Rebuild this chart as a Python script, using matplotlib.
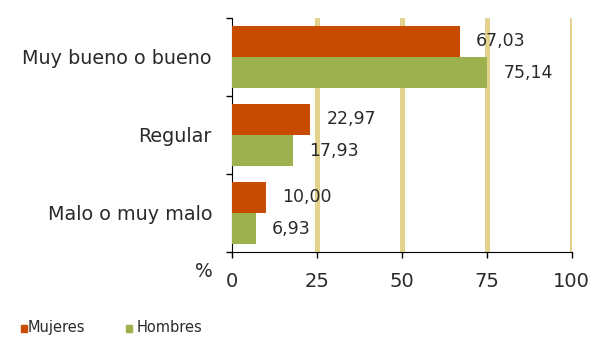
import matplotlib
matplotlib.use("Agg")
import matplotlib.pyplot as plt
import numpy as np
from matplotlib.patches import Rectangle

plt.rcParams['font.family'] = ['DejaVu Sans']

categories = ["Muy bueno o bueno", "Regular", "Malo o muy malo"]
mujeres = [67.03, 22.97, 10.00]
hombres = [75.14, 17.93, 6.93]
series_names = ["Mujeres", "Hombres"]
xticks = [0, 25, 50, 75, 100]

c_muj = "#C84B02"
c_hom = "#9DB14F"
c_grid = "#E3D28E"
c_text = "#2a2a2a"

W, H = 590, 337
fig = plt.figure(figsize=(W / 100, H / 100), dpi=100)
ax = fig.add_axes([232 / W, 1 - 252 / H, (571.5 - 232) / W, (252 - 18) / H])

n = len(categories)
y = np.arange(n)
h = 0.4
ax.barh(y - h/2, mujeres, height=h, color=c_muj, zorder=3)
ax.barh(y + h/2, hombres, height=h, color=c_hom, zorder=3)

def fmt(v):
    return f"{v:.2f}".replace(".", ",")

for yi, v in zip(y - h/2, mujeres):
    ax.annotate(fmt(v), (v, yi), xytext=(12, 0), textcoords="offset points",
                va="center", ha="left", fontsize=12.5, color=c_text, zorder=4)
for yi, v in zip(y + h/2, hombres):
    ax.annotate(fmt(v), (v, yi), xytext=(12, 0), textcoords="offset points",
                va="center", ha="left", fontsize=12.5, color=c_text, zorder=4)

ax.set_xlim(0, 100)
ax.set_ylim(n - 0.5, -0.5)

for gx in xticks[1:]:
    ax.axvline(gx, color=c_grid, lw=3.6, zorder=1)

ax.set_xticks(xticks)
ax.set_xticklabels([str(t) for t in xticks], fontsize=14, color=c_text)
ax.tick_params(axis="x", direction="out", length=4.3, width=1, pad=10, colors="black",
               labelcolor=c_text)

ax.set_yticks(y)
ax.set_yticklabels(categories, fontsize=13.8, color=c_text)
ax.tick_params(axis="y", which="major", length=0, pad=14.4)
ax.set_yticks(np.arange(-0.5, n), minor=True)
ax.tick_params(axis="y", which="minor", length=4.5, width=1, direction="out")

for s in ["top", "right"]:
    ax.spines[s].set_visible(False)
ax.spines["left"].set_color("black")
ax.spines["bottom"].set_color("black")

fig.text(204 / W, 1 - 271.5 / H, "%", fontsize=13.5, ha="center", va="center", color=c_text)

# legend (manual, bottom-left)
leg_items = [(21, 28, c_muj, series_names[0]), (126, 137, c_hom, series_names[1])]
for sx, tx, col, name in leg_items:
    fig.add_artist(Rectangle((sx / W, 1 - 332 / H), 6 / W, 7 / H,
                             transform=fig.transFigure, color=col))
    fig.text(tx / W, 2 / H, name, fontsize=10.5, ha="left", va="bottom", color=c_text)

fig.savefig("out.png", dpi=100)
